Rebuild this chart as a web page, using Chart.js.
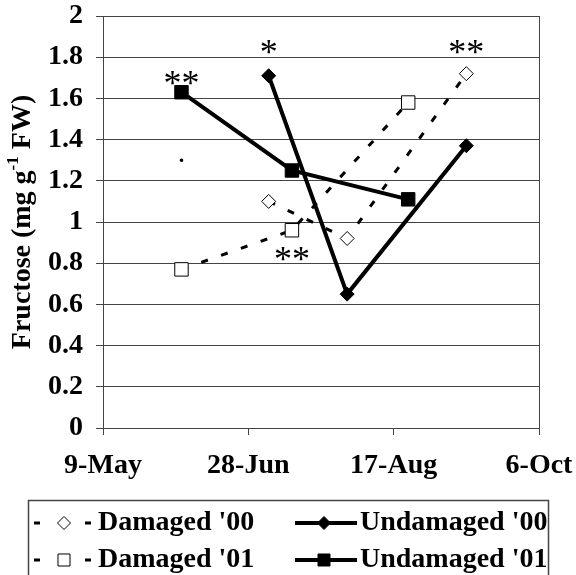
<!DOCTYPE html>
<html><head><meta charset="utf-8">
<script src="https://cdn.jsdelivr.net/npm/chart.js@4.4.1/dist/chart.umd.min.js"></script>
<style>html,body{margin:0;padding:0;background:#fff;} canvas{display:block;}</style>
</head><body>
<canvas id="c" width="576" height="575"></canvas>
<script>
const tickLabels = ['9-May', '28-Jun', '17-Aug', '6-Oct'];
const dates00 = ['5-Jul', '1-Aug', '11-Sep'];
const dates01 = ['5-Jun', '13-Jul', '22-Aug'];
const damaged00 = [1.10, 0.92, 1.72];
const undamaged00 = [1.71, 0.65, 1.37];
const damaged01 = [0.77, 0.96, 1.58];
const undamaged01 = [1.63, 1.25, 1.11];
const seriesNames = ["Damaged '00", "Undamaged '00", "Damaged '01", "Undamaged '01"];
const sigLabels = ['**', '*', '**', '**'];
const sigDates = ['5-Jun', '5-Jul', '11-Sep', '13-Jul'];
const sigValues = [1.70, 1.85, 1.85, 0.845];
const strayLabels = ['.'];
const strayDates = ['5-Jun'];
const strayValues = [1.30];
const yMin = 0, yMax = 2, yStep = 0.2;
const yTitleParts = ['Fructose (mg g', '-1', ' FW)'];

const FAMILY = "'Liberation Serif', 'Times New Roman', serif";
const MONTHS = {Jan:0,Feb:1,Mar:2,Apr:3,May:4,Jun:5,Jul:6,Aug:7,Sep:8,Oct:9,Nov:10,Dec:11};
const CUM = [0,31,59,90,120,151,181,212,243,273,304,334];
function doy(s) { const p = s.split('-'); return CUM[MONTHS[p[1]]] + Number(p[0]); }
const mk = (dates, vals) => dates.map((d, i) => ({x: doy(d), y: vals[i]}));

const dashedStyle = {borderColor:'#000', borderWidth:3, borderDash:[7,14], borderCapStyle:'butt', order:2};
const solidStyle = {borderColor:'#000', borderWidth:4, order:1};

const datasets = [
  Object.assign({label: seriesNames[0], data: mk(dates00, damaged00), pointStyle:'rectRot', pointRadius:7,
    pointBackgroundColor:'#fff', pointBorderColor:'#000', pointBorderWidth:1}, dashedStyle),
  Object.assign({label: seriesNames[1], data: mk(dates00, undamaged00), pointStyle:'rectRot', pointRadius:7,
    pointBackgroundColor:'#000', pointBorderColor:'#000', pointBorderWidth:1}, solidStyle),
  Object.assign({label: seriesNames[2], data: mk(dates01, damaged01), pointStyle:'rect', pointRadius:9.5,
    pointBackgroundColor:'#fff', pointBorderColor:'#000', pointBorderWidth:1}, dashedStyle),
  Object.assign({label: seriesNames[3], data: mk(dates01, undamaged01), pointStyle:'rect', pointRadius:9.5,
    pointBackgroundColor:'#000', pointBorderColor:'#000', pointBorderWidth:1}, solidStyle)
];

function drawInkCentered(ctx, text, x, y) {
  ctx.textAlign = 'center';
  ctx.textBaseline = 'alphabetic';
  const m = ctx.measureText(text);
  const a = m.actualBoundingBoxAscent, d = m.actualBoundingBoxDescent;
  ctx.fillText(text, x, y + (a - d) / 2);
}

function noAutoPadding(s) {
  s.paddingTop = 0; s.paddingBottom = 0; s.paddingLeft = 0; s.paddingRight = 0;
}

const decor = {
  id: 'decor',
  afterDatasetsDraw(chart) {
    const ctx = chart.ctx, xs = chart.scales.x, ys = chart.scales.y;
    ctx.save();
    ctx.fillStyle = '#000';
    ctx.font = 'normal 36px ' + FAMILY;
    sigLabels.forEach((t, i) => {
      drawInkCentered(ctx, t, xs.getPixelForValue(doy(sigDates[i])), ys.getPixelForValue(sigValues[i]));
    });
    ctx.font = 'bold 22px ' + FAMILY;
    strayLabels.forEach((t, i) => {
      drawInkCentered(ctx, t, xs.getPixelForValue(doy(strayDates[i])), ys.getPixelForValue(strayValues[i]));
    });
    ctx.restore();
  },
  afterDraw(chart) {
    const ctx = chart.ctx, area = chart.chartArea;
    // y-axis title with superscript
    ctx.save();
    ctx.fillStyle = '#000';
    ctx.translate(23, (area.top + area.bottom) / 2);
    ctx.rotate(-Math.PI / 2);
    const mainFont = 'bold 28px ' + FAMILY, supFont = 'bold 17px ' + FAMILY;
    ctx.font = mainFont; const w1 = ctx.measureText(yTitleParts[0]).width;
    ctx.font = supFont; const w2 = ctx.measureText(yTitleParts[1]).width;
    ctx.font = mainFont; const w3 = ctx.measureText(yTitleParts[2]).width;
    let x0 = -(w1 + w2 + w3) / 2;
    ctx.textAlign = 'left'; ctx.textBaseline = 'middle';
    ctx.font = mainFont; ctx.fillText(yTitleParts[0], x0, 0);
    ctx.font = supFont; ctx.fillText(yTitleParts[1], x0 + w1, -9);
    ctx.font = mainFont; ctx.fillText(yTitleParts[2], x0 + w1 + w2, 0);
    ctx.restore();

    // legend
    ctx.save();
    ctx.strokeStyle = '#444'; ctx.lineWidth = 1.5;
    ctx.strokeRect(28.5, 500.5, 520, 120);
    const lineStart = [34, 295], lineEnd = [91, 357], markerX = [64, 324], textX = [98, 360], rowY = [523, 560];
    chart.data.datasets.forEach((ds, i) => {
      const col = i % 2, row = Math.floor(i / 2);
      const y = rowY[row];
      ctx.save();
      ctx.strokeStyle = ds.borderColor;
      ctx.lineWidth = ds.borderWidth;
      ctx.lineCap = 'butt';
      ctx.setLineDash(ds.borderDash ? [6, 45] : []);
      ctx.beginPath(); ctx.moveTo(lineStart[col], y); ctx.lineTo(lineEnd[col], y); ctx.stroke();
      ctx.setLineDash([]);
      ctx.fillStyle = ds.pointBackgroundColor;
      ctx.strokeStyle = ds.pointBorderColor;
      ctx.lineWidth = ds.pointBorderWidth;
      Chart.helpers.drawPoint(ctx, {pointStyle: ds.pointStyle, radius: ds.pointStyle === 'rect' ? 8.5 : 6.5, borderWidth: ds.pointBorderWidth, rotation: 0}, markerX[col], y);
      ctx.restore();
      ctx.fillStyle = '#000';
      ctx.font = 'bold 28px ' + FAMILY;
      ctx.textAlign = 'left'; ctx.textBaseline = 'middle';
      ctx.fillText(ds.label, textX[col], y);
    });
    ctx.restore();
  }
};

const xMaxVal = doy(tickLabels[tickLabels.length - 1]);

new Chart(document.getElementById('c'), {
  type: 'line',
  data: {datasets},
  options: {
    responsive: false,
    animation: false,
    events: [],
    layout: {padding: {top: 16, right: 37, bottom: 75, left: 0}},
    elements: {line: {tension: 0}},
    plugins: {legend: {display: false}, tooltip: {enabled: false}},
    scales: {
      x: {
        type: 'linear',
        min: doy(tickLabels[0]),
        max: xMaxVal,
        afterBuildTicks: s => { s.ticks = tickLabels.map(l => ({value: doy(l)})); },
        ticks: {
          callback: (v, i) => tickLabels[i],
          font: {family: FAMILY, size: 28, weight: 'bold'},
          color: '#000', padding: 14, maxRotation: 0, autoSkip: false
        },
        grid: {
          drawOnChartArea: true,
          color: c => (c.tick && c.tick.value === xMaxVal) ? '#444' : 'rgba(0,0,0,0)',
          tickColor: '#444', tickLength: 7, lineWidth: 1
        },
        border: {display: true, color: '#444', width: 1},
        afterFit: s => { s.height = 72; noAutoPadding(s); }
      },
      y: {
        min: yMin, max: yMax,
        ticks: {
          stepSize: yStep,
          callback: v => String(Number(Number(v).toFixed(1))),
          font: {family: FAMILY, size: 28, weight: 'bold'},
          color: '#000', padding: 13
        },
        grid: {color: '#444', tickColor: '#444', tickLength: 7, lineWidth: 1},
        border: {display: true, color: '#444', width: 1},
        afterFit: s => { s.width = 103; noAutoPadding(s); }
      }
    }
  },
  plugins: [decor]
});
</script>
</body></html>
